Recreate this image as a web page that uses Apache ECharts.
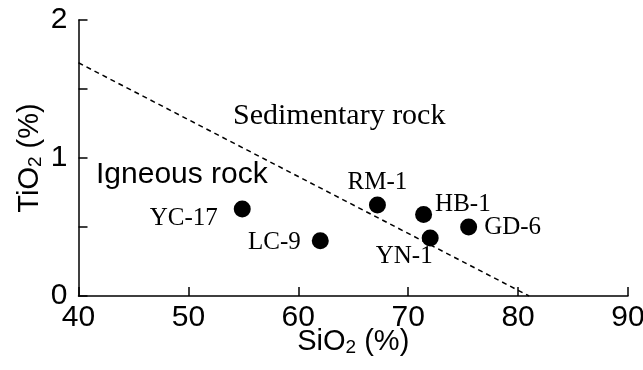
<!DOCTYPE html>
<html><head><meta charset="utf-8">
<script src="https://cdn.jsdelivr.net/npm/echarts@6/dist/echarts.min.js"></script>
<style>html,body{margin:0;padding:0;background:#fff}#c{width:643px;height:370px}</style>
</head><body><div id="c"></div>
<script>
const sampleNames = ['YC-17','LC-9','RM-1','HB-1','YN-1','GD-6'];
const sio2 = [54.9, 62.0, 67.2, 71.4, 72.0, 75.5];
const tio2 = [0.63, 0.40, 0.66, 0.59, 0.42, 0.50];
const boundaryX = [40, 81];
const boundaryY = [1.69, 0];
const xTicks = [40, 50, 60, 70, 80, 90];
const yTicks = [0, 1, 2];

const SANS = 'Liberation Sans, Arial, sans-serif';
const SERIF = 'Liberation Serif, Times New Roman, serif';
const labelPos = {
  'YC-17': {position: 'left', distance: 16, offset: [0, 9]},
  'LC-9': {position: 'left', distance: 11, offset: [0, 2]},
  'RM-1': {position: 'top', distance: 1},
  'HB-1': {position: 'right', distance: 3, offset: [0, -10]},
  'YN-1': {position: [11, 27], align: 'right', verticalAlign: 'middle'},
  'GD-6': {position: 'right', distance: 7}
};
const chart = echarts.init(document.getElementById('c'));
const subRich = {sub: {fontSize: 19, verticalAlign: 'bottom', padding: [12, 0, 0, 0], fontFamily: SANS, color: '#000'}};
chart.setOption({
  animation: false,
  grid: {left: 78.5, right: 15, top: 20, bottom: 74, outerBoundsMode: 'none', containLabel: false},
  xAxis: {
    type: 'value', min: 40, max: 90, interval: 10,
    name: 'SiO{sub|2} (%)', nameLocation: 'middle', nameGap: 30, nameMoveOverlap: false,
    nameTextStyle: {fontSize: 29, fontFamily: SANS, color: '#000', rich: subRich},
    axisLine: {lineStyle: {color: '#000', width: 1.5}},
    axisTick: {inside: true, length: 9, lineStyle: {color: '#000', width: 1.5}},
    axisLabel: {fontSize: 30, fontFamily: SANS, color: '#000', margin: 7,
      formatter: v => xTicks.includes(v) ? String(v) : ''},
    splitLine: {show: false}
  },
  yAxis: {
    type: 'value', min: 0, max: 2, interval: 0.5,
    name: 'TiO{sub|2} (%)', nameLocation: 'middle', nameGap: 33, nameRotate: 90, nameMoveOverlap: false,
    nameTextStyle: {fontSize: 29, fontFamily: SANS, color: '#000', rich: subRich},
    axisLine: {show: true, lineStyle: {color: '#000', width: 1.5}},
    axisTick: {show: true, inside: true, length: 9, lineStyle: {color: '#000', width: 1.5}},
    axisLabel: {fontSize: 30, fontFamily: SANS, color: '#000', margin: 11,
      formatter: v => yTicks.includes(v) ? String(v) : ''},
    splitLine: {show: false}
  },
  series: [
    {
      type: 'line', data: boundaryX.map((x, i) => [x, boundaryY[i]]),
      symbol: 'none', silent: true,
      lineStyle: {color: '#000', width: 1.5, type: [5, 4]}
    },
    {
      type: 'scatter', symbolSize: 17,
      itemStyle: {color: '#000', opacity: 1},
      data: sampleNames.map((n, i) => ({
        value: [sio2[i], tio2[i]], name: n,
        label: Object.assign({show: true, formatter: n, fontFamily: SERIF, fontSize: 25, color: '#000', opacity: 1}, labelPos[n])
      }))
    }
  ],
  graphic: [
    {type: 'text', left: 233, top: 101, style: {text: 'Sedimentary rock', font: '30px ' + SERIF, fill: '#000'}},
    {type: 'text', left: 96, top: 160, style: {text: 'Igneous rock', font: '30px ' + SANS, fill: '#000'}}
  ]
});
</script></body></html>
